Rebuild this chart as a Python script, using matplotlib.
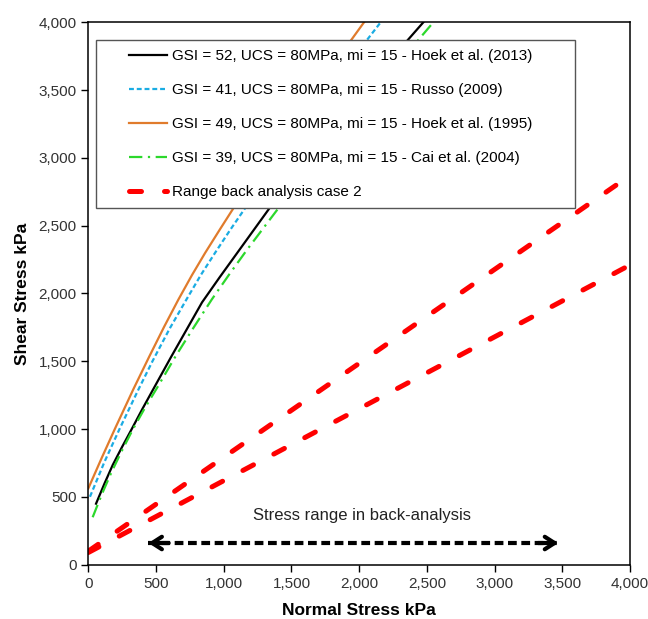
import matplotlib.pyplot as plt
from matplotlib.patches import Rectangle
from matplotlib.ticker import FuncFormatter

plt.rcParams['font.family'] = ['Liberation Sans', 'DejaVu Sans']

# Hoek-Brown envelopes (normal stress kPa, shear stress kPa)
hoek2013_x = [57, 120, 180, 250, 315, 400, 480, 610, 840, 970, 1100, 1337, 1850, 2474]
hoek2013_y = [450, 600, 735, 870, 990, 1150, 1295, 1530, 1935, 2120, 2300, 2628, 3290, 4000]
russo_x = [12, 120, 230, 369, 476, 600, 727, 830, 936, 1045, 1157, 1600, 2159]
russo_y = [501, 760, 1000, 1290, 1505, 1740, 1960, 2135, 2300, 2465, 2628, 3280, 4000]
hoek1995_x = [0, 100, 200, 333, 450, 560, 665, 765, 863, 970, 1071, 1500, 2036]
hoek1995_y = [563, 790, 1010, 1295, 1535, 1755, 1955, 2135, 2300, 2470, 2628, 3260, 4000]
cai_x = [32, 100, 170, 250, 330, 420, 505, 640, 775, 911, 1040, 1170, 1403, 1900, 2548]
cai_y = [350, 520, 680, 845, 1000, 1160, 1300, 1530, 1745, 1955, 2140, 2320, 2628, 3240, 4000]

# back analysis range (two straight lines)
range_x = [0, 4000]
range_upper = [100, 2870]
range_lower = [90, 2210]

# stress range arrow
arrow_x = [443, 3471]
arrow_y = 160

labels = ['GSI = 52, UCS = 80MPa, mi = 15 - Hoek et al. (2013)',
          'GSI = 41, UCS = 80MPa, mi = 15 - Russo (2009)',
          'GSI = 49, UCS = 80MPa, mi = 15 - Hoek et al. (1995)',
          'GSI = 39, UCS = 80MPa, mi = 15 - Cai et al. (2004)',
          'Range back analysis case 2']

fig = plt.figure(figsize=(6.48, 6.19), dpi=100)
ax = fig.add_axes([0.1363, 0.0877, 0.8359, 0.8763])

ax.plot(hoek2013_x, hoek2013_y, color='black', lw=1.6, label=labels[0])
ax.plot(russo_x, russo_y, color='#1AACE3', lw=1.6, dashes=(2.2, 1.3), label=labels[1])
ax.plot(hoek1995_x, hoek1995_y, color='#E07B2C', lw=1.6, label=labels[2])
ax.plot(cai_x, cai_y, color='#2CD82C', lw=1.6, dashes=(6, 2.5, 1, 2.5), label=labels[3])
ax.plot(range_x, range_upper, color='#FF0000', lw=3.6, dashes=(2.4, 4.6),
        dash_capstyle='round', label=labels[4])
ax.plot(range_x, range_lower, color='#FF0000', lw=3.6, dashes=(2.4, 4.6),
        dash_capstyle='round')

# dashed double arrow
ax.plot(arrow_x, [arrow_y, arrow_y], color='black', lw=3, dashes=(2.1, 1.1))
ax.annotate('', xy=(arrow_x[0], arrow_y), xytext=(arrow_x[0] + 150, arrow_y),
            arrowprops=dict(arrowstyle='->,head_length=0.7,head_width=0.45',
                            color='black', lw=3, shrinkA=0, shrinkB=0))
ax.annotate('', xy=(arrow_x[1], arrow_y), xytext=(arrow_x[1] - 150, arrow_y),
            arrowprops=dict(arrowstyle='->,head_length=0.7,head_width=0.45',
                            color='black', lw=3, shrinkA=0, shrinkB=0))
ax.text(2021, 366, 'Stress range in back-analysis', ha='center', va='center',
        fontsize=12, color='#222222')

ax.set_xlim(0, 4000)
ax.set_ylim(0, 4000)
ax.set_xticks(range(0, 4001, 500))
ax.set_yticks(range(0, 4001, 500))
fmt = FuncFormatter(lambda v, p: f'{int(v):,}')
ax.xaxis.set_major_formatter(fmt)
ax.yaxis.set_major_formatter(fmt)
ax.tick_params(direction='out', length=5, width=1, labelsize=11,
               labelcolor='#333333', top=False, right=False)
for s in ax.spines.values():
    s.set_linewidth(1.1)

ax.set_xlabel('Normal Stress kPa', fontsize=12.5, fontweight='bold', labelpad=9)
ax.set_ylabel('Shear Stress kPa', fontsize=12.5, fontweight='bold', labelpad=6)

# legend box drawn separately so the entries can sit indented like the original
frame = Rectangle((0.0142, 0.6576), 0.8843, 0.3097, transform=ax.transAxes,
                  facecolor='white', edgecolor='#555555', lw=1, zorder=4.5)
ax.add_patch(frame)
leg = ax.legend(loc='upper left', bbox_to_anchor=(0.0751, 0.9508),
                fontsize=11, handlelength=2.5, handletextpad=0.3,
                labelspacing=1.31, borderpad=0, frameon=False, borderaxespad=0)
leg.set_zorder(5)

plt.savefig('out.png', dpi=100)
